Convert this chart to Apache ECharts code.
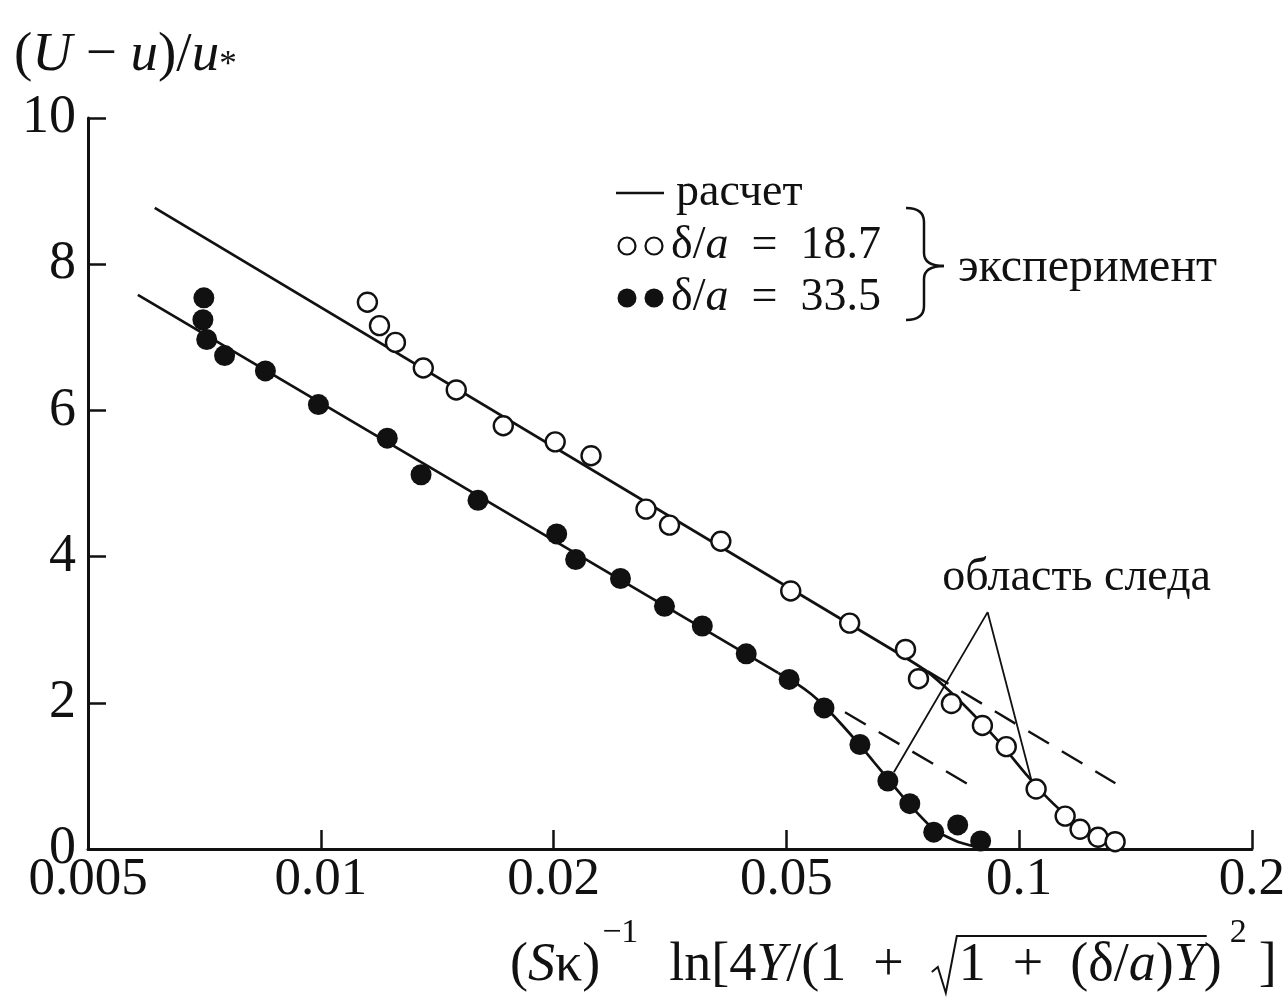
<!DOCTYPE html>
<html>
<head>
<meta charset="utf-8">
<script src="https://cdn.jsdelivr.net/npm/echarts@6/dist/echarts.min.js"></script>
<style>
  html, body { margin: 0; padding: 0; background: #ffffff; }
  #chart { width: 1288px; height: 1006px; }
</style>
</head>
<body>
<div id="chart"></div>
<script>
// Tick values of the abscissa (drawn equally spaced, log-interpolated between ticks)
const xTickValues = [0.005, 0.01, 0.02, 0.05, 0.1, 0.2];
const xTickLabels = ['0.005', '0.01', '0.02', '0.05', '0.1', '0.2'];

// Experiment, δ/a = 18.7 (open circles)
const openX = [0.01149, 0.01191, 0.01249, 0.01357, 0.01497, 0.01722, 0.02013, 0.02318,
               0.02878, 0.03157, 0.03864, 0.05066, 0.06038, 0.0713, 0.07411, 0.08175,
               0.08965, 0.09625, 0.1052, 0.1147, 0.1199, 0.1265, 0.1331];
const openY = [7.48, 7.16, 6.93, 6.58, 6.28, 5.79, 5.57, 5.38,
               4.65, 4.43, 4.21, 3.53, 3.09, 2.73, 2.33, 1.99,
               1.69, 1.40, 0.82, 0.45, 0.27, 0.16, 0.10];

// Experiment, δ/a = 33.5 (filled circles)
const filledX = [0.00706, 0.00704, 0.00712, 0.00751, 0.00848, 0.00993, 0.01219, 0.01348,
                 0.01597, 0.02025, 0.02182, 0.02603, 0.03095, 0.03592, 0.0427, 0.05042,
                 0.05594, 0.06225, 0.06765, 0.07222, 0.07755, 0.08329, 0.08918];
const filledY = [7.54, 7.24, 6.97, 6.75, 6.54, 6.08, 5.62, 5.12,
                 4.77, 4.31, 3.96, 3.70, 3.32, 3.05, 2.67, 2.32,
                 1.93, 1.43, 0.93, 0.62, 0.23, 0.33, 0.11];

// Calculation ("расчет"): logarithmic part (straight) and wake part (curved)
const calcUpperLogX = [0.0061, 0.07073];
const calcUpperLogY = [8.77, 2.64];
const calcUpperWakeX = [0.07073, 0.0762, 0.08206, 0.08838, 0.09519, 0.10253, 0.10881, 0.11546, 0.1225, 0.1281, 0.1339];
const calcUpperWakeY = [2.64, 2.42, 2.12, 1.78, 1.41, 1.00, 0.70, 0.45, 0.26, 0.15, 0.07];
const calcLowerLogX = [0.0058, 0.04842];
const calcLowerLogY = [7.58, 2.41];
const calcLowerWakeX = [0.04842, 0.05179, 0.05382, 0.05594, 0.0590, 0.06225, 0.06489, 0.06765, 0.07243, 0.07778, 0.08329, 0.0897];
const calcLowerWakeY = [2.41, 2.25, 2.12, 1.96, 1.70, 1.42, 1.19, 0.96, 0.59, 0.26, 0.10, 0.01];

// Logarithmic-law continuation into the wake region (dashed)
const dashUpperX = [0.0762, 0.1332];
const dashUpperY = [2.43, 0.90];
const dashLowerX = [0.05955, 0.08838];
const dashLowerY = [1.87, 0.81];

// Leader lines of the "область следа" note: left end, apex, right end
const wakeNoteX = [0.06887, 0.09106, 0.1041];
const wakeNoteY = [1.05, 3.24, 0.88];

const SERIF = '"Liberation Serif", "DejaVu Serif", serif';
const INK = '#111111';
const EN = '\u2002';

function toAxis(v) {
  const n = xTickValues.length;
  for (let i = 0; i < n - 1; i++) {
    const a = xTickValues[i], b = xTickValues[i + 1];
    if (v <= b || i === n - 2) return i + Math.log(v / a) / Math.log(b / a);
  }
}
const pairs = (xs, ys) => xs.map((x, i) => [toAxis(x), ys[i]]);

// Abscissa title with a radical drawn over the measured text runs
function formulaElements(x0, yMid) {
  const ctx = document.createElement('canvas').getContext('2d');
  const size = 54, supSize = 34;
  const parts = [
    { t: '(' }, { t: 'S', it: 1 }, { t: 'κ)' }, { t: '−1', sup: 1, gap: 2, after: 4 }, { t: EN + 'ln[4' },
    { t: 'Y', it: 1 }, { t: '/(1' + EN + '+' + EN }, { rad: 1 },
    { t: '1' + EN + '+' + EN + '(δ/', ov: 1 }, { t: 'a', it: 1, ov: 1 }, { t: ')', ov: 1 }, { t: 'Y', it: 1, ov: 1 },
    { t: ')' }, { t: '2', sup: 1, gap: 8, after: 12 }, { t: ']' }
  ];
  const els = [];
  let x = x0, ovEnd = null, radX = null;
  for (const p of parts) {
    if (p.rad) { radX = x; x += 28; continue; }
    const fs = p.sup ? supSize : size;
    const font = (p.it ? 'italic ' : '') + fs + 'px ' + SERIF;
    ctx.font = font;
    const w = ctx.measureText(p.t).width;
    if (p.ov) ovEnd = x + w;
    if (p.sup) x += p.gap;
    els.push({
      type: 'text', x: x, y: p.sup ? yMid - 33 : yMid,
      style: { text: p.t, font: font, fill: INK, textAlign: 'left', textVerticalAlign: 'middle' }
    });
    x += w + (p.sup ? p.after : 0);
  }
  const top = yMid - 30;
  els.push({
    type: 'polyline',
    shape: { points: [[radX + 1, yMid + 6], [radX + 7, yMid + 1], [radX + 15, yMid + 27], [radX + 26, top], [ovEnd + 3, top]] },
    style: { stroke: INK, lineWidth: 2, fill: null }
  });
  return els;
}

// Curly brace grouping the two experiment entries
function braceElements(xl, xm, xt, yTop, yMid, yBot) {
  const st = { stroke: INK, lineWidth: 2.5, fill: null };
  return [
    { type: 'bezierCurve', shape: { x1: xl, y1: yTop, cpx1: xm, cpy1: yTop, x2: xm, y2: yTop + 14 }, style: st },
    { type: 'line', shape: { x1: xm, y1: yTop + 14, x2: xm, y2: yMid - 13 }, style: st },
    { type: 'bezierCurve', shape: { x1: xm, y1: yMid - 13, cpx1: xm, cpy1: yMid, x2: xt, y2: yMid }, style: st },
    { type: 'bezierCurve', shape: { x1: xt, y1: yMid, cpx1: xm, cpy1: yMid, x2: xm, y2: yMid + 13 }, style: st },
    { type: 'line', shape: { x1: xm, y1: yMid + 13, x2: xm, y2: yBot - 14 }, style: st },
    { type: 'bezierCurve', shape: { x1: xm, y1: yBot - 14, cpx1: xm, cpy1: yBot, x2: xl, y2: yBot }, style: st }
  ];
}

const chart = echarts.init(document.getElementById('chart'), null, { renderer: 'canvas' });

const legendRich = { i: { fontStyle: 'italic', fontSize: 46, fontFamily: SERIF } };
const legendEls = [
  { type: 'line', shape: { x1: 616, y1: 193, x2: 664, y2: 193 }, style: { stroke: INK, lineWidth: 2.5 } },
  { type: 'text', x: 676, y: 193, style: { text: 'расчет', font: '46px ' + SERIF, fill: INK, textVerticalAlign: 'middle' } },
  { type: 'circle', shape: { cx: 627, cy: 246, r: 8.5 }, style: { fill: '#fff', stroke: INK, lineWidth: 2.2 } },
  { type: 'circle', shape: { cx: 654, cy: 246, r: 8.5 }, style: { fill: '#fff', stroke: INK, lineWidth: 2.2 } },
  {
    type: 'text', x: 671, y: 246,
    style: { text: 'δ/{i|a}' + EN + '=' + EN + '18.7', font: '46px ' + SERIF, fill: INK, textVerticalAlign: 'middle', rich: legendRich }
  },
  { type: 'circle', shape: { cx: 627, cy: 298, r: 9.5 }, style: { fill: INK } },
  { type: 'circle', shape: { cx: 654, cy: 298, r: 9.5 }, style: { fill: INK } },
  {
    type: 'text', x: 671, y: 298,
    style: { text: 'δ/{i|a}' + EN + '=' + EN + '33.5', font: '46px ' + SERIF, fill: INK, textVerticalAlign: 'middle', rich: legendRich }
  },
  ...braceElements(906, 924, 944, 208, 266, 320),
  { type: 'text', x: 958, y: 268, style: { text: 'эксперимент', font: '48px ' + SERIF, fill: INK, textVerticalAlign: 'middle' } }
];

const yTitle = {
  type: 'text', x: 14, y: 56,
  style: {
    text: '({i|U} − {i|u})/{i|u}{s|*}', font: '55px ' + SERIF, fill: INK, textVerticalAlign: 'middle',
    rich: {
      i: { fontStyle: 'italic', fontSize: 55, fontFamily: SERIF },
      s: { fontSize: 35, fontFamily: SERIF, verticalAlign: 'bottom', padding: [18, 0, 0, 0] }
    }
  }
};

const solid = { color: INK, width: 2.7 };
const dashed = { color: INK, width: 2.4, type: [24, 15] };
const lineBase = { type: 'line', showSymbol: false, symbol: 'none', z: 2, silent: true };

const option = {
  backgroundColor: '#ffffff',
  animation: false,
  grid: { left: 88, right: 33, top: 118, bottom: 157, containLabel: false },
  xAxis: {
    type: 'value', min: 0, max: 5, interval: 1,
    axisLine: { show: true, onZero: false, lineStyle: { color: INK, width: 3 } },
    axisTick: { show: true, inside: true, length: 19, lineStyle: { color: INK, width: 2.5 } },
    axisLabel: {
      formatter: v => xTickLabels[Math.round(v)] ?? '',
      fontSize: 53, fontFamily: SERIF, color: INK, margin: 5,
      showMinLabel: true, showMaxLabel: true, hideOverlap: false
    },
    splitLine: { show: false }
  },
  yAxis: {
    type: 'value', min: 0, max: 10, interval: 2,
    axisLine: { show: true, lineStyle: { color: INK, width: 3 } },
    axisTick: { show: true, inside: true, length: 18, lineStyle: { color: INK, width: 2.5 } },
    axisLabel: { fontSize: 54, fontFamily: SERIF, color: INK, margin: 12 },
    splitLine: { show: false }
  },
  series: [
    { ...lineBase, data: pairs(calcUpperLogX, calcUpperLogY), lineStyle: solid },
    { ...lineBase, data: pairs(calcUpperWakeX, calcUpperWakeY), smooth: 0.2, lineStyle: solid },
    { ...lineBase, data: pairs(calcLowerLogX, calcLowerLogY), lineStyle: solid },
    { ...lineBase, data: pairs(calcLowerWakeX, calcLowerWakeY), smooth: 0.2, lineStyle: solid },
    { ...lineBase, data: pairs(dashUpperX, dashUpperY), lineStyle: dashed },
    { ...lineBase, data: pairs(dashLowerX, dashLowerY), lineStyle: dashed },
    { ...lineBase, data: pairs(wakeNoteX, wakeNoteY), lineStyle: { color: INK, width: 1.8 } },
    {
      type: 'scatter', data: [pairs(wakeNoteX, wakeNoteY)[1]], symbolSize: 1,
      itemStyle: { color: 'rgba(0,0,0,0)', opacity: 1 }, z: 1, silent: true,
      label: {
        show: true, position: 'top', offset: [89, -6], formatter: 'область следа',
        fontSize: 46, fontFamily: SERIF, color: INK, opacity: 1
      }
    },
    {
      type: 'scatter', data: pairs(openX, openY), symbol: 'circle', symbolSize: 19,
      itemStyle: { color: '#ffffff', borderColor: INK, borderWidth: 2.4, opacity: 1 }, z: 5, silent: true
    },
    {
      type: 'scatter', data: pairs(filledX, filledY), symbol: 'circle', symbolSize: 21,
      itemStyle: { color: INK, opacity: 1 }, z: 5, silent: true
    }
  ],
  graphic: { elements: [yTitle, ...legendEls, ...formulaElements(510, 966)] }
};

chart.setOption(option);
</script>
</body>
</html>
